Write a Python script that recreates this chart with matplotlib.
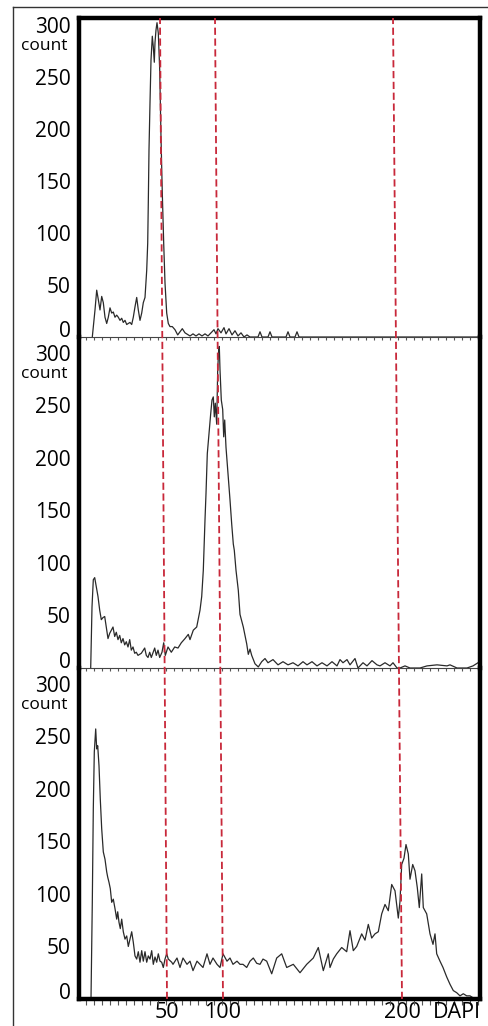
import matplotlib
matplotlib.use("Agg")
import matplotlib.pyplot as plt
from matplotlib.lines import Line2D
from matplotlib.ticker import MultipleLocator

plt.rcParams['font.family'] = ['Open Sans', 'DejaVu Sans']

# DAPI channel and cell count per histogram
ch_1 = [14.3, 17.0, 18.7, 20.3, 22.0, 23.7, 25.3, 27.0, 28.7, 30.3,
        32.0, 33.7, 35.3, 37.0, 38.7, 40.3, 42.0, 43.7, 45.3, 47.0,
        48.7, 50.3, 52.0, 53.7, 55.3, 57.0, 58.7, 60.3, 62.0, 63.7,
        65.3, 67.0, 68.7, 69.7, 70.3, 71.0, 72.0, 73.0, 74.3, 75.3,
        76.3, 77.0, 78.0, 79.0, 80.3, 81.7, 83.0, 84.3, 85.7, 87.0,
        88.7, 90.3, 92.0, 94.3, 97.0, 99.7, 102.0, 104.3, 107.0,
        112, 115, 118, 121, 124, 127, 130, 133, 136, 138,
        140, 143, 146, 148, 151, 154, 157, 160, 163, 166,
        169, 172, 180, 182, 184, 190, 192, 194, 208, 210, 212, 217, 219, 221, 400]
cnt_1 = [0, 26, 45, 36, 26, 39, 33, 19, 13, 19,
         28, 23, 24, 19, 21, 19, 16, 18, 14, 16,
         12, 13, 14, 12, 19, 29, 38, 26, 16, 23,
         33, 38, 64, 90, 129, 180, 225, 266, 289, 279,
         264, 283, 295, 302, 292, 257, 192, 138, 90, 52,
         23, 13, 10, 10, 7, 2, 5, 8, 4,
         1, 3, 1, 3, 1, 3, 1, 4, 7, 3,
         8, 4, 9, 3, 8, 2, 6, 1, 4, 0,
         2, 0, 0, 5, 0, 0, 5, 0, 0, 5, 0, 0, 5, 0, 0]

ch_2 = [12.7, 14.0, 15.3, 16.7, 18.3, 20.0, 21.7, 23.3, 25.0, 26.7,
        28.3, 30.0, 31.7, 33.3, 35.0, 36.7, 38.3, 40.0, 41.7, 43.3,
        45.0, 46.7, 48.3, 50.0, 51.7, 53.3, 55.0, 56.7, 58.3, 60.0,
        63.3, 66.7, 68.3, 70.0, 71.7, 73.3, 76.7, 78.3, 80.0, 81.7,
        84.0, 85.7, 87.3, 90.0, 93.3, 96.7, 100.0, 103.3, 107.0, 110.3,
        112.0, 115.3, 118.7, 122.0, 123.7, 125.3, 127.0, 128.0, 129.3, 131.3,
        132.7, 134.0, 135.3, 136.3, 137.3, 138.7, 139.7, 140.7, 141.3, 142.0,
        143.3, 144.7, 145.7, 146.7, 148.0, 150.3, 152.0, 153.7, 155.3, 156.3,
        158.0, 160.3, 162.0, 165.3, 168.7, 170.3, 172.0, 173.7, 177.0, 180.3,
        183.7, 187, 190, 195, 200, 205, 210, 215, 220, 225,
        229, 234, 239, 244, 249, 254, 259, 262, 265, 269,
        272, 277, 280, 285, 289, 294, 299, 302, 307, 312,
        315, 319, 322, 327, 332, 342, 349, 359, 369, 372,
        379, 389, 395, 400]
cnt_2 = [0, 58, 84, 86, 77, 68, 55, 46, 48, 49,
         39, 28, 33, 36, 39, 30, 34, 27, 31, 24,
         28, 22, 25, 20, 27, 17, 20, 14, 15, 12,
         14, 19, 12, 10, 15, 10, 19, 12, 17, 10,
         15, 24, 12, 20, 15, 20, 19, 24, 28, 32,
         27, 36, 39, 55, 68, 93, 141, 166, 204, 227,
         242, 255, 258, 239, 252, 232, 284, 303, 306, 284,
         255, 246, 220, 236, 210, 182, 160, 137, 118, 112,
         93, 74, 51, 39, 23, 13, 18, 12, 4, 1,
         6, 9, 5, 8, 3, 6, 3, 5, 2, 6,
         3, 6, 2, 5, 2, 6, 2, 8, 5, 8,
         3, 9, 0, 5, 2, 7, 3, 2, 5, 2,
         5, 0, 0, 2, 0, 0, 2, 3, 2, 3,
         0, 0, 2, 5]

ch_3 = [13.0, 14.3, 15.3, 16.3, 17.7, 18.7, 19.7, 21.0, 22.3, 23.7,
        25.3, 27.0, 28.7, 29.7, 31.0, 32.3, 33.7, 35.3, 37.0, 38.7,
        39.7, 41.0, 42.3, 43.7, 45.3, 47.0, 48.7, 50.3, 52.0, 53.7,
        55.3, 57.0, 58.7, 60.3, 62.0, 63.7, 65.3, 67.0, 68.7, 70.3,
        72.0, 73.7, 75.3, 77.0, 78.7, 80.3, 82.0, 83.7, 85.3, 87.0,
        88.7, 90.3, 93.7, 95, 99, 102, 105, 109, 112, 115,
        119, 122, 125, 129, 132, 135, 139, 142, 145, 149,
        152, 155, 159, 162, 165, 168.7, 172, 175.3, 178.7, 182,
        185, 188.7, 193.7, 198.7, 203.7, 208.7, 215.3, 222, 228.7, 235.3,
        240.3, 245.3, 250.3, 252, 255.3, 258.7, 263.7, 268.7, 272, 275.3,
        278.7, 283.7, 287, 290.3, 293.7, 297, 300.3, 303.7, 307, 310.3,
        313.7, 317, 320.3, 322, 323.7, 326, 328, 330.3, 332, 334.7,
        337, 339.3, 341.3, 343.7, 345.3, 348.7, 352, 355, 357, 358.7,
        362, 365, 368.7, 372, 375.3, 378.7, 382, 385.3, 388.7, 392,
        395.3, 398.7]
cnt_3 = [0, 92, 181, 235, 257, 238, 241, 222, 190, 162,
         140, 133, 121, 116, 111, 105, 92, 95, 86, 76,
         83, 73, 67, 76, 64, 57, 60, 50, 57, 64,
         54, 41, 38, 45, 35, 46, 36, 45, 35, 41,
         38, 46, 33, 40, 35, 43, 36, 35, 30, 38,
         43, 38, 35, 33, 39, 30, 39, 33, 36, 27,
         36, 33, 30, 43, 33, 39, 33, 30, 43, 36,
         39, 33, 36, 33, 33, 30, 36, 39, 34, 33,
         38, 36, 24, 39, 43, 30, 33, 25, 33, 39,
         49, 27, 43, 30, 38, 43, 49, 45, 65, 46,
         50, 62, 56, 71, 58, 62, 64, 81, 90, 84,
         109, 103, 77, 93, 128, 134, 147, 138, 114, 128,
         122, 106, 87, 119, 87, 81, 62, 52, 62, 43,
         36, 30, 21, 14, 8, 6, 3, 5, 3, 3,
         1, 0]

# red reference lines (channel at top and bottom of the frame), DAPI labels
marker_top = [82, 137, 315]
marker_bottom = [89, 145, 324]
marker_labels = ['50', '100', '200']
count_ticks = [0, 50, 100, 150, 200, 250, 300]

W, H = 488, 1026
left, right = 79, 480
rows = [(17.5, 337), (337, 668), (668, 999)]
ytops = [307, 315, 315]
series = [(ch_1, cnt_1), (ch_2, cnt_2), (ch_3, cnt_3)]

fig = plt.figure(figsize=(W / 100, H / 100), dpi=100)

for i, ((top, bot), ytop, (ch, cnt)) in enumerate(zip(rows, ytops, series)):
    ax = fig.add_axes([left / W, 1 - bot / H, (right - left) / W, (bot - top) / H])
    ax.set_facecolor('none')
    ax.plot(ch, cnt, color='#2a2a2a', lw=0.9)
    ax.set_xlim(1, 402)
    ax.set_ylim(0, ytop)

    ax.set_yticks(count_ticks, [str(v) for v in count_ticks])
    ax.tick_params(axis='y', length=0, pad=6, labelsize=15)
    ax.yaxis.get_major_ticks()[0].label1.set_verticalalignment('baseline')
    ax.annotate('count', xy=(0, 300), xycoords=('axes fraction', 'data'),
                xytext=(-8, -15), textcoords='offset points',
                ha='right', va='center', fontsize=12.5)

    ax.xaxis.set_minor_locator(MultipleLocator(8))
    ax.tick_params(axis='x', which='minor', direction='out', length=4.5 if i == 2 else 2.5,
                   width=0.8, color='#555555')
    ax.tick_params(axis='x', which='major', length=0)

    for s in ('left', 'right'):
        ax.spines[s].set_linewidth(3.2)
        ax.spines[s].set_color('black')
    if i == 0:
        ax.spines['top'].set_linewidth(3.2)
    else:
        ax.spines['top'].set_visible(False)
    if i == 2:
        ax.spines['bottom'].set_linewidth(3.2)
        ax.set_xticks(marker_bottom, marker_labels)
        ax.tick_params(axis='x', which='major', labelsize=15.5, pad=2)
        ax.annotate('DAPI', xy=(0.943, 0), xycoords='axes fraction',
                    xytext=(0, -2), textcoords='offset points',
                    ha='center', va='top', fontsize=15.5)
    else:
        ax.spines['bottom'].set_linewidth(0.8)
        ax.spines['bottom'].set_color('#444444')
        ax.set_xticks([])

# slanted dashed reference lines across all three panels
ov = fig.add_axes([left / W, 1 - rows[2][1] / H, (right - left) / W,
                   (rows[2][1] - rows[0][0]) / H])
ov.set_xlim(1, 402)
ov.set_ylim(0, 1)
ov.axis('off')
for t, b in zip(marker_top, marker_bottom):
    ov.plot([b, t], [0, 1], color='#c8283a', lw=1.3, ls=(0, (4, 2)))

# thin outer border of the figure cell
fig.add_artist(Line2D([13 / W, 1], [1 - 7 / H, 1 - 7 / H], color='#333333', lw=1))
fig.add_artist(Line2D([13 / W, 13 / W], [1 - 7 / H, 0], color='#333333', lw=1))

fig.savefig('out.png', dpi=100)
